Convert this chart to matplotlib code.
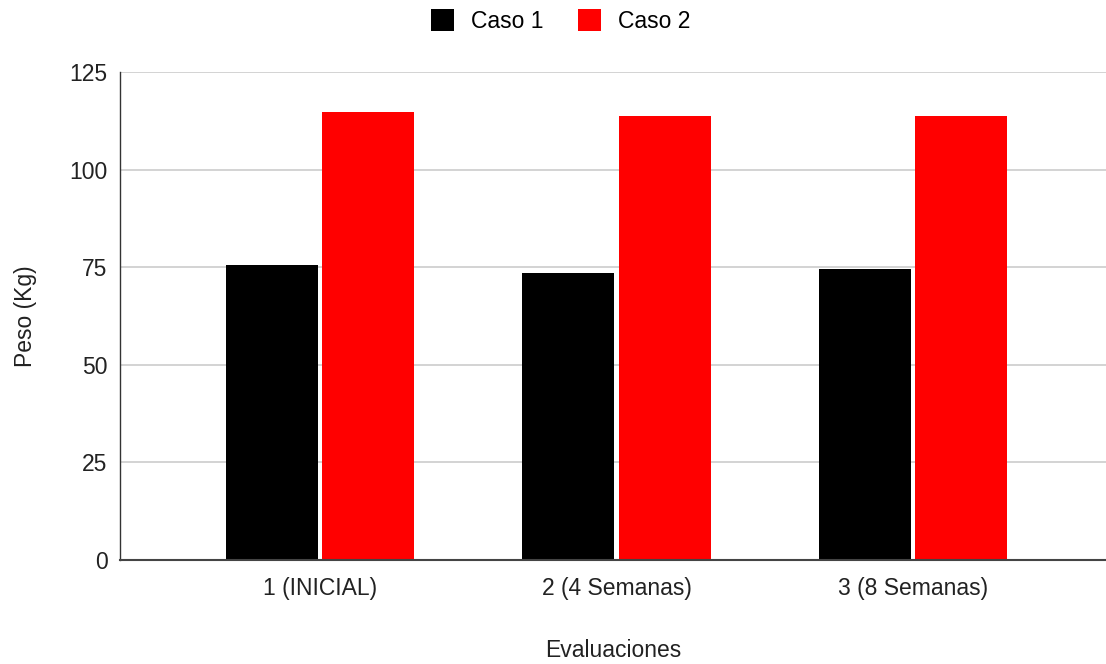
import matplotlib
matplotlib.use("Agg")
import matplotlib.pyplot as plt
import numpy as np

categories = ["1 (INICIAL)", "2 (4 Semanas)", "3 (8 Semanas)"]
caso1 = [75.5, 73.5, 74.5]
caso2 = [114.8, 113.7, 113.7]
yticks = [0, 25, 50, 75, 100, 125]

plt.rcParams['font.family'] = ['Liberation Sans', 'DejaVu Sans']
FS = 16.5

fig = plt.figure(figsize=(11.06, 6.64), dpi=100)
ax = fig.add_axes([120/1106, 1-560/664, 1-120/1106, (560-72)/664])

x = np.arange(len(categories))
w = 0.311
off = 0.1625
b1 = ax.bar(x - off, caso1, width=w, color="#000000", label="Caso 1", zorder=3)
b2 = ax.bar(x + off, caso2, width=w, color="#ff0000", label="Caso 2", zorder=3)

ax.set_xlim(-0.676, 2.652)
ax.set_ylim(0, 125)
ax.set_yticks(yticks)
ax.set_xticks(x)
ax.set_xticklabels(categories, fontsize=FS, color="#222222")
ax.tick_params(axis='y', length=0, pad=9, labelsize=FS, labelcolor="#222222")
ax.tick_params(axis='x', length=0, pad=12)
ax.grid(axis='y', color="#cccccc", linewidth=1.2, zorder=0)
for s in ["top", "right"]:
    ax.spines[s].set_visible(False)
ax.spines["left"].set_color("#333333")
ax.spines["left"].set_linewidth(1.0)
ax.spines["bottom"].set_color("#444444")
ax.spines["bottom"].set_linewidth(1.5)
ax.spines["bottom"].set_zorder(4)

ax.set_ylabel("Peso (Kg)", fontsize=FS, color="#222222", labelpad=23)
ax.set_xlabel("Evaluaciones", fontsize=FS, color="#222222", labelpad=28)

fig.legend(handles=[b1, b2], labels=["Caso 1", "Caso 2"], loc="center",
           bbox_to_anchor=(0.507, 1-21/664), ncol=2, frameon=False,
           fontsize=FS, handlelength=1.0, handleheight=1.05,
           handletextpad=0.74, columnspacing=1.5)

fig.savefig("out.png", dpi=100)
